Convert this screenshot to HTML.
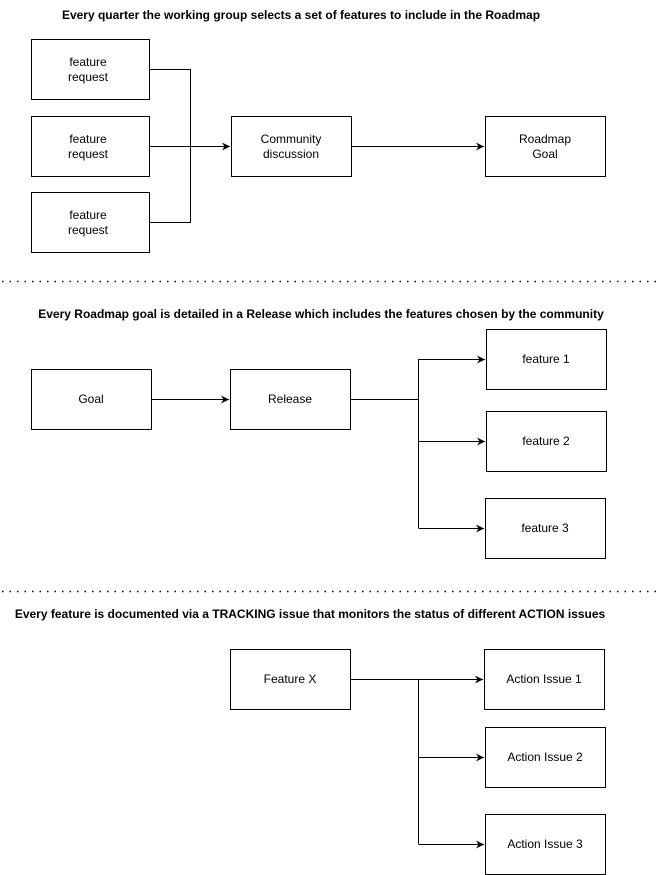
<!DOCTYPE html>
<html><head><meta charset="utf-8"><style>
body{margin:0;background:#fff;}
svg{display:block;}
text{font-family:"Liberation Sans",Arial,sans-serif;font-size:12px;fill:#000;}
.t{font-weight:bold;font-size:12px;}
rect{fill:#fff;stroke:#000;stroke-width:1;}
.l{stroke:#000;stroke-width:1;fill:none;}
.d{stroke:#000;stroke-width:1.5;stroke-dasharray:1.5 6;}
</style></head><body>
<svg width="656" height="875" viewBox="0 0 656 875">
<defs><marker id="a" markerWidth="10" markerHeight="10" refX="8" refY="5" orient="auto" markerUnits="userSpaceOnUse"><path d="M0,1 L8,5 L0,9 L2.5,5 Z" fill="#000"/></marker></defs>
<text class="t" x="301" y="19" text-anchor="middle">Every quarter the working group selects a set of features to include in the Roadmap</text>
<rect x="31.5" y="39.5" width="118" height="60"/>
<text x="88" y="66" text-anchor="middle">feature</text><text x="88" y="81" text-anchor="middle">request</text>
<rect x="31.5" y="116.5" width="118" height="60"/>
<text x="88" y="143" text-anchor="middle">feature</text><text x="88" y="158" text-anchor="middle">request</text>
<rect x="31.5" y="192.5" width="118" height="60"/>
<text x="88" y="219" text-anchor="middle">feature</text><text x="88" y="234" text-anchor="middle">request</text>
<path class="l" d="M150,69.5 H190.5 V222.5 H150"/>
<path class="l" d="M150,146.5 H230" marker-end="url(#a)"/>
<rect x="231.5" y="116.5" width="120" height="60"/>
<text x="291" y="143" text-anchor="middle">Community</text><text x="291" y="158" text-anchor="middle">discussion</text>
<path class="l" d="M352,146.5 H484" marker-end="url(#a)"/>
<rect x="485.5" y="116.5" width="120" height="60"/>
<text x="545" y="143" text-anchor="middle">Roadmap</text><text x="545" y="158" text-anchor="middle">Goal</text>
<line class="d" x1="2" y1="281.5" x2="656" y2="281.5"/>
<text class="t" x="321" y="318" text-anchor="middle">Every Roadmap goal is detailed in a Release which includes the features chosen by the community</text>
<rect x="31.5" y="369.5" width="120" height="60"/>
<text x="91" y="403" text-anchor="middle">Goal</text>
<path class="l" d="M152,399.5 H229" marker-end="url(#a)"/>
<rect x="230.5" y="369.5" width="120" height="60"/>
<text x="290" y="403" text-anchor="middle">Release</text>
<path class="l" d="M351,399.5 H418.5"/>
<path class="l" d="M418.5,359 V528"/>
<path class="l" d="M418.5,359.5 H485" marker-end="url(#a)"/>
<path class="l" d="M418.5,441.5 H485" marker-end="url(#a)"/>
<path class="l" d="M418.5,528.5 H484" marker-end="url(#a)"/>
<rect x="486.5" y="329.5" width="120" height="60"/>
<text x="546" y="363" text-anchor="middle">feature 1</text>
<rect x="486.5" y="411.5" width="120" height="60"/>
<text x="546" y="445" text-anchor="middle">feature 2</text>
<rect x="485.5" y="498.5" width="120" height="60"/>
<text x="545" y="532" text-anchor="middle">feature 3</text>
<line class="d" x1="2" y1="591.5" x2="656" y2="591.5"/>
<text class="t" x="310" y="618" text-anchor="middle">Every feature is documented via a TRACKING issue that monitors the status of different ACTION issues</text>
<rect x="230.5" y="649.5" width="120" height="60"/>
<text x="290" y="683" text-anchor="middle">Feature X</text>
<path class="l" d="M351,679.5 H483" marker-end="url(#a)"/>
<path class="l" d="M418.5,679 V844"/>
<path class="l" d="M418.5,757.5 H484" marker-end="url(#a)"/>
<path class="l" d="M418.5,844.5 H484" marker-end="url(#a)"/>
<rect x="484.5" y="649.5" width="120" height="60"/>
<text x="544" y="683" text-anchor="middle">Action Issue 1</text>
<rect x="485.5" y="727.5" width="120" height="60"/>
<text x="545" y="761" text-anchor="middle">Action Issue 2</text>
<rect x="485.5" y="814.5" width="120" height="60"/>
<text x="545" y="848" text-anchor="middle">Action Issue 3</text>
</svg>
</body></html>
